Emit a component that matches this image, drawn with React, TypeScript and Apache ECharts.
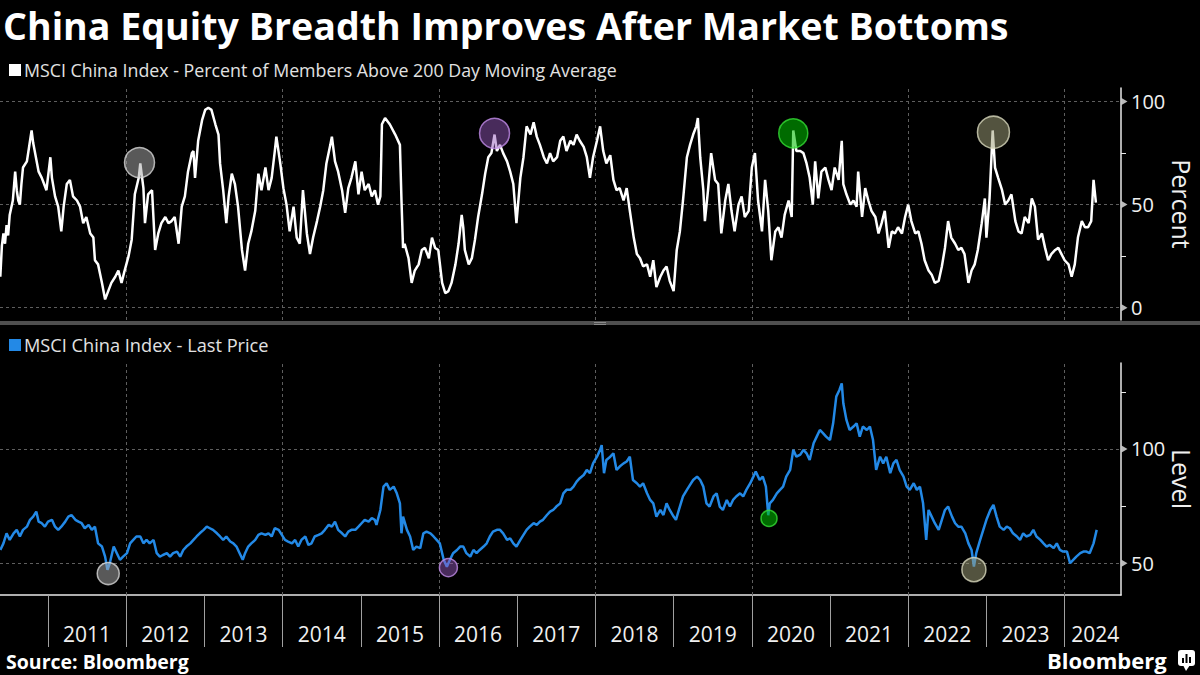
import React, { useEffect, useRef } from 'react';
import * as echarts from 'echarts';

// MSCI China Index - Percent of Members Above 200 Day Moving Average  [decimal year, percent]
const breadthSeries: [number, number][] = [
  [2010.39,15],[2010.41,30],[2010.43,36],[2010.45,31],[2010.47,40],[2010.49,35],[2010.51,45],[2010.55,52],[2010.58,66],[2010.60,57],[2010.62,52],[2010.64,50],[2010.66,60],[2010.68,68],[2010.73,71],[2010.77,81],[2010.79,86],[2010.81,80],[2010.83,76],[2010.86,70],[2010.88,66],[2010.92,63],[2010.95,60],[2010.98,57],
  [2011.03,73],[2011.05,63],[2011.09,54],[2011.13,49],[2011.17,37],[2011.20,49],[2011.24,60],[2011.28,62],[2011.32,54],[2011.37,52],[2011.41,49],[2011.45,41],[2011.49,44],[2011.54,36],[2011.58,34],[2011.60,23],[2011.64,21],[2011.69,12],[2011.73,4],[2011.77,8],[2011.81,12],[2011.86,15],[2011.90,18],[2011.94,12],[2011.98,18],
  [2012.03,25],[2012.07,33],[2012.11,55],[2012.16,63],[2012.18,70],[2012.22,58],[2012.24,41],[2012.28,55],[2012.33,57],[2012.37,28],[2012.41,36],[2012.45,41],[2012.50,44],[2012.54,41],[2012.58,42],[2012.62,44],[2012.67,31],[2012.71,49],[2012.75,54],[2012.79,66],[2012.84,75],[2012.86,76],[2012.88,63],[2012.92,81],[2012.97,91],
  [2013.01,96],[2013.05,97],[2013.09,96],[2013.14,89],[2013.18,84],[2013.20,70],[2013.24,57],[2013.28,41],[2013.31,54],[2013.35,65],[2013.39,60],[2013.43,49],[2013.48,28],[2013.52,18],[2013.56,31],[2013.60,37],[2013.65,47],[2013.69,65],[2013.73,57],[2013.78,68],[2013.82,57],[2013.86,63],[2013.90,76],[2013.92,83],[2013.97,70],
  [2014.01,58],[2014.05,50],[2014.09,37],[2014.14,49],[2014.18,34],[2014.22,31],[2014.26,57],[2014.31,36],[2014.35,26],[2014.39,34],[2014.44,42],[2014.48,49],[2014.52,57],[2014.56,70],[2014.61,79],[2014.63,83],[2014.67,71],[2014.71,66],[2014.76,57],[2014.80,46],[2014.84,58],[2014.88,63],[2014.93,71],[2014.97,55],
  [2015.01,66],[2015.05,57],[2015.10,60],[2015.14,54],[2015.18,57],[2015.22,50],[2015.25,54],[2015.27,89],[2015.31,92],[2015.37,89],[2015.44,84],[2015.50,79],[2015.52,52],[2015.54,29],[2015.56,31],[2015.61,24],[2015.65,12],[2015.69,18],[2015.74,21],[2015.78,28],[2015.82,29],[2015.87,24],[2015.91,34],[2015.95,29],[2015.99,28],
  [2016.04,12],[2016.08,7],[2016.12,8],[2016.16,12],[2016.21,21],[2016.25,31],[2016.29,45],[2016.31,39],[2016.33,28],[2016.38,21],[2016.42,24],[2016.46,33],[2016.50,44],[2016.55,55],[2016.59,65],[2016.63,73],[2016.67,75],[2016.71,84],[2016.74,76],[2016.78,79],[2016.82,75],[2016.87,71],[2016.91,66],[2016.95,60],[2016.99,41],
  [2017.04,63],[2017.08,73],[2017.12,88],[2017.17,84],[2017.21,90],[2017.25,83],[2017.29,79],[2017.34,73],[2017.38,70],[2017.42,75],[2017.46,71],[2017.51,73],[2017.55,81],[2017.59,83],[2017.63,76],[2017.68,81],[2017.72,79],[2017.76,84],[2017.80,81],[2017.85,78],[2017.89,73],[2017.93,63],[2017.97,73],
  [2018.02,81],[2018.06,88],[2018.10,76],[2018.14,70],[2018.19,74],[2018.23,62],[2018.27,57],[2018.31,58],[2018.36,52],[2018.40,58],[2018.44,47],[2018.49,34],[2018.53,26],[2018.57,24],[2018.61,20],[2018.66,21],[2018.70,15],[2018.74,23],[2018.78,10],[2018.83,15],[2018.87,18],[2018.91,20],[2018.95,13],
  [2019.00,8],[2019.04,28],[2019.08,37],[2019.12,52],[2019.17,73],[2019.21,79],[2019.25,84],[2019.29,88],[2019.31,92],[2019.34,73],[2019.38,57],[2019.40,42],[2019.44,57],[2019.48,75],[2019.53,62],[2019.57,60],[2019.61,36],[2019.66,52],[2019.70,60],[2019.74,47],[2019.78,37],[2019.83,50],[2019.87,54],[2019.91,44],[2019.96,47],
  [2020.00,68],[2020.04,75],[2020.08,52],[2020.13,37],[2020.17,62],[2020.21,47],[2020.25,23],[2020.30,37],[2020.34,39],[2020.38,34],[2020.42,45],[2020.47,52],[2020.51,44],[2020.53,86],[2020.57,76],[2020.62,76],[2020.66,75],[2020.70,70],[2020.74,63],[2020.78,50],[2020.81,71],[2020.85,53],[2020.89,66],[2020.94,68],[2020.98,62],
  [2021.02,57],[2021.06,68],[2021.11,62],[2021.15,81],[2021.17,60],[2021.21,55],[2021.26,50],[2021.30,52],[2021.34,49],[2021.36,66],[2021.41,44],[2021.45,58],[2021.49,52],[2021.53,47],[2021.58,44],[2021.62,36],[2021.66,41],[2021.70,47],[2021.75,29],[2021.79,37],[2021.83,36],[2021.87,39],[2021.92,36],[2021.96,44],
  [2022.00,50],[2022.04,42],[2022.09,36],[2022.13,37],[2022.17,31],[2022.21,23],[2022.26,18],[2022.30,16],[2022.34,12],[2022.39,13],[2022.43,20],[2022.47,29],[2022.51,42],[2022.55,34],[2022.60,31],[2022.64,28],[2022.68,29],[2022.72,26],[2022.77,12],[2022.81,18],[2022.85,21],[2022.89,28],[2022.94,41],[2022.98,53],
  [2023.00,34],[2023.04,53],[2023.08,86],[2023.11,68],[2023.15,63],[2023.20,57],[2023.24,50],[2023.28,52],[2023.32,55],[2023.37,42],[2023.41,37],[2023.45,36],[2023.49,44],[2023.54,41],[2023.58,53],[2023.62,49],[2023.66,33],[2023.71,36],[2023.75,29],[2023.79,23],[2023.83,26],[2023.88,28],[2023.92,29],[2023.96,26],
  [2024.00,23],[2024.05,21],[2024.09,15],[2024.13,21],[2024.17,34],[2024.22,42],[2024.26,39],[2024.30,39],[2024.34,42],[2024.37,62],[2024.40,51],
];

// MSCI China Index - Last Price  [decimal year, level]
const priceSeries: [number, number][] = [
  [2010.39,55.8],[2010.43,58.7],[2010.47,63.1],[2010.51,60.2],[2010.56,63.1],[2010.60,64.6],[2010.64,61.7],[2010.68,64.6],[2010.73,66.0],[2010.77,69.0],[2010.81,70.4],[2010.85,72.6],[2010.88,68.2],[2010.92,67.5],[2010.96,66.0],
  [2011.00,68.2],[2011.05,69.0],[2011.09,66.0],[2011.13,64.6],[2011.17,66.0],[2011.22,68.2],[2011.26,70.4],[2011.30,71.1],[2011.35,69.0],[2011.39,68.2],[2011.43,67.5],[2011.47,65.3],[2011.52,66.8],[2011.56,64.6],[2011.60,66.0],[2011.64,58.7],[2011.69,57.3],[2011.73,52.9],[2011.76,47.1],[2011.79,50.0],[2011.84,57.3],[2011.88,54.4],[2011.92,51.5],[2011.96,52.9],
  [2012.01,54.4],[2012.05,58.7],[2012.09,60.2],[2012.13,61.7],[2012.18,61.7],[2012.22,58.7],[2012.26,60.2],[2012.30,58.7],[2012.35,60.2],[2012.39,54.4],[2012.43,52.9],[2012.47,53.6],[2012.52,54.4],[2012.56,52.9],[2012.60,54.4],[2012.65,55.1],[2012.69,52.9],[2012.73,55.8],[2012.77,57.3],[2012.82,58.7],[2012.86,60.2],[2012.90,61.7],[2012.94,63.1],[2012.99,64.6],
  [2013.03,66.0],[2013.07,65.3],[2013.11,64.6],[2013.16,63.1],[2013.20,61.7],[2013.24,60.2],[2013.28,61.7],[2013.33,59.5],[2013.37,58.7],[2013.41,57.3],[2013.45,54.4],[2013.49,51.5],[2013.52,54.4],[2013.56,57.3],[2013.60,58.7],[2013.65,60.2],[2013.69,62.4],[2013.73,63.1],[2013.78,62.4],[2013.82,63.1],[2013.86,61.7],[2013.90,65.3],[2013.95,64.6],[2013.99,62.4],
  [2014.03,60.2],[2014.07,59.5],[2014.12,58.7],[2014.16,60.2],[2014.20,57.3],[2014.24,60.2],[2014.29,61.7],[2014.33,58.0],[2014.37,58.7],[2014.41,61.7],[2014.46,62.4],[2014.50,63.1],[2014.54,64.6],[2014.59,66.8],[2014.63,66.0],[2014.67,68.2],[2014.71,64.6],[2014.76,63.1],[2014.80,61.7],[2014.84,63.8],[2014.88,64.6],[2014.93,64.6],[2014.97,66.0],
  [2015.01,67.5],[2015.05,69.0],[2015.10,68.2],[2015.14,69.7],[2015.18,69.0],[2015.20,66.8],[2015.25,73.3],[2015.29,83.5],[2015.33,85.0],[2015.37,82.1],[2015.42,83.5],[2015.46,80.6],[2015.50,76.2],[2015.52,63.1],[2015.54,70.4],[2015.59,64.6],[2015.63,61.7],[2015.67,55.8],[2015.71,57.3],[2015.76,56.6],[2015.80,63.1],[2015.84,63.8],[2015.89,63.1],[2015.93,61.7],[2015.97,60.2],
  [2016.01,58.7],[2016.06,51.5],[2016.10,48.5],[2016.14,51.5],[2016.18,54.4],[2016.23,55.8],[2016.27,57.3],[2016.31,57.3],[2016.35,54.4],[2016.40,52.9],[2016.44,55.8],[2016.48,54.4],[2016.52,55.8],[2016.57,57.3],[2016.61,58.7],[2016.65,61.7],[2016.69,63.8],[2016.74,64.6],[2016.78,64.6],[2016.82,63.1],[2016.87,60.2],[2016.91,60.9],[2016.95,58.7],[2016.99,57.3],
  [2017.04,60.2],[2017.08,62.4],[2017.12,64.6],[2017.16,66.0],[2017.21,67.5],[2017.25,66.8],[2017.29,68.2],[2017.33,69.0],[2017.38,71.1],[2017.42,72.6],[2017.46,73.3],[2017.50,74.8],[2017.55,76.2],[2017.59,80.6],[2017.63,82.1],[2017.68,82.1],[2017.72,83.5],[2017.76,85.7],[2017.80,87.2],[2017.85,88.6],[2017.89,90.8],[2017.93,89.4],[2017.97,93.7],
  [2018.02,96.6],[2018.06,99.6],[2018.08,101.7],[2018.11,89.4],[2018.14,95.2],[2018.19,96.6],[2018.23,98.1],[2018.27,90.8],[2018.31,92.3],[2018.36,93.7],[2018.40,94.5],[2018.44,96.6],[2018.48,86.4],[2018.53,85.0],[2018.57,83.5],[2018.61,85.0],[2018.66,80.6],[2018.70,77.7],[2018.74,76.2],[2018.78,70.4],[2018.83,73.3],[2018.87,71.1],[2018.91,76.2],[2018.95,73.3],
  [2019.00,70.4],[2019.03,69.0],[2019.08,74.8],[2019.12,79.2],[2019.17,82.1],[2019.21,84.3],[2019.25,86.4],[2019.30,87.9],[2019.34,86.4],[2019.38,83.5],[2019.42,76.2],[2019.46,74.8],[2019.51,79.2],[2019.55,80.6],[2019.59,74.8],[2019.63,73.3],[2019.68,77.7],[2019.72,74.8],[2019.76,77.7],[2019.80,79.2],[2019.85,80.6],[2019.89,79.2],[2019.93,82.1],[2019.98,85.0],
  [2020.02,87.9],[2020.05,90.1],[2020.10,86.4],[2020.14,87.9],[2020.18,83.5],[2020.21,71.0],[2020.23,76.2],[2020.27,77.7],[2020.32,80.6],[2020.36,82.1],[2020.40,83.5],[2020.44,87.9],[2020.49,90.8],[2020.53,99.6],[2020.57,96.6],[2020.62,97.5],[2020.66,99.6],[2020.70,98.1],[2020.74,95.2],[2020.79,102.5],[2020.83,105.4],[2020.87,108.3],[2020.91,106.9],[2020.95,105.4],
  [2021.00,103.9],[2021.04,111.2],[2021.08,122.9],[2021.12,125.8],[2021.15,128.7],[2021.17,120.0],[2021.21,112.7],[2021.25,108.3],[2021.30,109.8],[2021.34,111.2],[2021.38,105.4],[2021.42,109.8],[2021.47,108.3],[2021.51,109.8],[2021.55,103.9],[2021.59,90.8],[2021.64,96.6],[2021.68,93.7],[2021.72,96.6],[2021.77,89.4],[2021.81,93.7],[2021.85,95.2],[2021.89,90.8],[2021.94,87.9],[2021.98,83.5],
  [2022.02,82.1],[2022.07,85.0],[2022.11,82.1],[2022.15,83.5],[2022.19,76.2],[2022.23,60.2],[2022.26,73.3],[2022.30,70.4],[2022.34,67.5],[2022.39,64.6],[2022.43,69.0],[2022.47,73.3],[2022.51,74.8],[2022.56,70.4],[2022.60,67.5],[2022.64,66.0],[2022.68,66.0],[2022.73,63.1],[2022.77,58.7],[2022.81,55.8],[2022.84,48.5],[2022.87,54.4],[2022.92,60.2],[2022.96,64.6],
  [2023.00,69.0],[2023.05,73.3],[2023.09,75.5],[2023.13,70.4],[2023.17,66.0],[2023.22,64.6],[2023.26,66.0],[2023.30,65.3],[2023.34,63.1],[2023.39,61.7],[2023.43,60.2],[2023.47,63.1],[2023.51,61.7],[2023.56,62.4],[2023.60,64.6],[2023.64,61.7],[2023.69,60.2],[2023.73,58.7],[2023.77,57.3],[2023.81,58.0],[2023.86,56.6],[2023.90,58.7],[2023.94,55.8],[2023.98,55.1],
  [2024.03,55.1],[2024.07,50.0],[2024.11,51.5],[2024.15,52.9],[2024.20,54.4],[2024.24,55.1],[2024.28,55.1],[2024.32,54.4],[2024.37,58.7],[2024.41,64.6],
];

// Highlighted points: breadth peaks after bottoms, and the market bottoms
const breadthPeaks: [number, number][] = [[2012.17, 70.4], [2016.71, 84.6], [2020.53, 84.6], [2023.09, 85.1]];
const priceBottoms: [number, number][] = [[2011.77, 45.5], [2016.12, 48.1], [2020.22, 69.6], [2022.84, 47.2]];

const yearTicks = [2011, 2012, 2013, 2014, 2015, 2016, 2017, 2018, 2019, 2020, 2021, 2022, 2023, 2024];
const yearLabels = ['2011', '2012', '2013', '2014', '2015', '2016', '2017', '2018', '2019', '2020', '2021', '2022', '2023', '2024'];
const gridYears = [2012, 2014, 2016, 2018, 2020, 2022, 2024];
const percentTicks = [0, 50, 100];
const percentMinorTicks = [25, 75];
const levelTicks = [50, 100];
const levelMinorTicks = [75, 125];

const TITLE = 'China Equity Breadth Improves After Market Bottoms';
const TOP_LEGEND = 'MSCI China Index - Percent of Members Above 200 Day Moving Average';
const BOTTOM_LEGEND = 'MSCI China Index - Last Price';

const X_MIN = 2010.386;
const X_MAX = 2024.721;
const FONT = "'Open Sans', 'Liberation Sans', Arial, sans-serif";
const BLUE = '#2389e6';
const AXIS_COLOR = '#e8e8e8';
const GRID_COLOR = '#5e5e5e';

const markerStyles = [
  { fill: 'rgba(170,170,170,0.65)', stroke: '#d8d8d8' },
  { fill: 'rgba(150,90,190,0.6)', stroke: '#c28ce8' },
  { fill: 'rgba(0,190,0,0.7)', stroke: '#35dd35' },
  { fill: 'rgba(160,160,120,0.65)', stroke: '#dadabe' },
];
const topMarkerSizes = [30, 30, 29, 32];
const bottomMarkerSizes = [22, 18, 16, 24];

const tickTriangle = 'path://M0 0L10 6L0 12Z';

function gridMarkLine(hValues: number[]) {
  return {
    silent: true,
    symbol: ['none', 'none'],
    label: { show: false },
    emphasis: { disabled: true },
    lineStyle: { color: GRID_COLOR, width: 1, type: [3, 3] },
    z: 1,
    animation: false,
    data: [
      ...gridYears.map((y) => ({ xAxis: y })),
      ...hValues.map((v) => ({ yAxis: v })),
    ],
  };
}

function markerSeries(data: [number, number][], sizes: number[], axisIndex: number) {
  return {
    type: 'scatter',
    xAxisIndex: axisIndex,
    yAxisIndex: axisIndex,
    z: 4,
    silent: true,
    clip: false,
    data: data.map((p, i) => ({
      value: p,
      symbolSize: sizes[i],
      itemStyle: { color: markerStyles[i].fill, borderColor: markerStyles[i].stroke, borderWidth: 1.5 },
    })),
  };
}

function tickSeries(values: number[], axisIndex: number) {
  return {
    type: 'scatter',
    xAxisIndex: axisIndex,
    yAxisIndex: axisIndex,
    z: 5,
    silent: true,
    clip: false,
    symbol: tickTriangle,
    symbolSize: [6, 7],
    symbolOffset: [3.5, 0],
    itemStyle: { color: AXIS_COLOR },
    data: values.map((v) => [X_MAX, v]),
  };
}

function valueAxis(gridIndex: number, min: number, max: number, labels: number[], minor: number[], name: string) {
  return {
    type: 'value', gridIndex, position: 'right', min, max,
    name, nameLocation: 'middle', nameRotate: -90, nameGap: 48, nameMoveOverlap: false,
    nameTextStyle: { color: '#f0f0f0', fontSize: 25, fontFamily: FONT },
    axisLine: { show: true, onZero: false, lineStyle: { color: AXIS_COLOR, width: 1.5 } },
    axisTick: { show: true, customValues: minor, length: 5, lineStyle: { color: AXIS_COLOR, width: 1 } },
    axisLabel: { customValues: labels, color: '#f0f0f0', fontSize: 20, fontFamily: FONT, margin: 10 },
    splitLine: { show: false },
  };
}

export default function App() {
  const ref = useRef<HTMLDivElement>(null);

  useEffect(() => {
    document.body.style.margin = '0';
    document.body.style.background = '#000';
    if (!ref.current) return;
    const chart = echarts.init(ref.current, null, { renderer: 'svg' });
    const yearLabelPositions = yearLabels.map((l) => Math.min(Number(l) + 0.5, X_MAX - 0.33));

    const option = {
      animation: false,
      backgroundColor: '#000',
      grid: [
        { left: 0, top: 88, width: 1121, height: 232, containLabel: false, outerBoundsMode: 'none' },
        { left: 0, top: 363, width: 1121, height: 232, containLabel: false, outerBoundsMode: 'none' },
      ],
      xAxis: [
        { type: 'value', gridIndex: 0, min: X_MIN, max: X_MAX, show: false, splitLine: { show: false } },
        {
          type: 'value', gridIndex: 1, min: X_MIN, max: X_MAX,
          axisLine: { show: true, onZero: false, lineStyle: { color: AXIS_COLOR, width: 1.5 } },
          axisTick: { show: true, customValues: yearTicks, length: 52, lineStyle: { color: '#a0a0a0', width: 1 } },
          axisLabel: {
            show: true, customValues: yearLabelPositions,
            formatter: (v: number) => String(Math.floor(v)),
            color: '#f0f0f0', fontSize: 21, fontFamily: FONT, margin: 28,
          },
          splitLine: { show: false },
        },
      ],
      yAxis: [
        valueAxis(0, -6, 106.6, percentTicks, percentMinorTicks, 'Percent'),
        valueAxis(1, 36.1, 137.6, levelTicks, levelMinorTicks, 'Level'),
      ],
      series: [
        {
          name: TOP_LEGEND,
          type: 'line', xAxisIndex: 0, yAxisIndex: 0, z: 2,
          data: breadthSeries, showSymbol: false, symbol: 'none', silent: true,
          lineStyle: { color: '#ffffff', width: 2.5 },
          markLine: gridMarkLine(percentTicks),
        },
        {
          name: BOTTOM_LEGEND,
          type: 'line', xAxisIndex: 1, yAxisIndex: 1, z: 2,
          data: priceSeries, showSymbol: false, symbol: 'none', silent: true,
          lineStyle: { color: BLUE, width: 2.5 },
          markLine: gridMarkLine(levelTicks),
        },
        markerSeries(breadthPeaks, topMarkerSizes, 0),
        markerSeries(priceBottoms, bottomMarkerSizes, 1),
        tickSeries(percentTicks, 0),
        tickSeries(levelTicks, 1),
      ],
      graphic: [
        { type: 'text', x: 3, y: 25, style: { text: TITLE, fill: '#ffffff', fontSize: 37.6, lineHeight: 40, fontWeight: 'bold', fontFamily: FONT, align: 'left', verticalAlign: 'middle' } },
        { type: 'rect', shape: { x: 9, y: 64, width: 12, height: 12 }, style: { fill: '#ffffff' } },
        { type: 'text', x: 24, y: 70, style: { text: TOP_LEGEND, fill: '#e2e2e2', fontSize: 17.8, fontFamily: FONT, align: 'left', verticalAlign: 'middle' } },
        { type: 'rect', shape: { x: 9, y: 339, width: 12, height: 12 }, style: { fill: BLUE } },
        { type: 'text', x: 24, y: 345, style: { text: BOTTOM_LEGEND, fill: '#e2e2e2', fontSize: 18.2, fontFamily: FONT, align: 'left', verticalAlign: 'middle' } },
        { type: 'rect', shape: { x: 0, y: 321, width: 1200, height: 4 }, style: { fill: '#4f4f4f' } },
        { type: 'rect', shape: { x: 594, y: 322, width: 12, height: 1 }, style: { fill: '#8a8a8a' } },
        { type: 'rect', shape: { x: 594, y: 324, width: 12, height: 1 }, style: { fill: '#8a8a8a' } },
        { type: 'text', x: 6, y: 661, style: { text: 'Source: Bloomberg', fill: '#ffffff', fontSize: 19.5, fontWeight: 'bold', fontFamily: FONT, align: 'left', verticalAlign: 'middle' } },
        { type: 'text', x: 1047, y: 660, style: { text: 'Bloomberg', fill: '#ffffff', fontSize: 22, fontWeight: 'bold', fontFamily: FONT, align: 'left', verticalAlign: 'middle' } },
        { type: 'rect', shape: { x: 1178, y: 650, width: 17, height: 16, r: 3 }, style: { fill: '#ffffff' } },
        { type: 'polygon', shape: { points: [[1183, 665], [1190, 665], [1186, 671]] }, style: { fill: '#ffffff' } },
        { type: 'rect', shape: { x: 1182, y: 658, width: 2, height: 5 }, style: { fill: '#000000' } },
        { type: 'rect', shape: { x: 1185.5, y: 654, width: 2, height: 9 }, style: { fill: '#000000' } },
        { type: 'rect', shape: { x: 1189, y: 657, width: 2, height: 6 }, style: { fill: '#000000' } },
      ],
    };

    chart.setOption(option as any);
    return () => chart.dispose();
  }, []);

  return (
    <div
      ref={ref}
      style={{ position: 'absolute', left: 0, top: 0, width: 1200, height: 675, background: '#000' }}
    />
  );
}
